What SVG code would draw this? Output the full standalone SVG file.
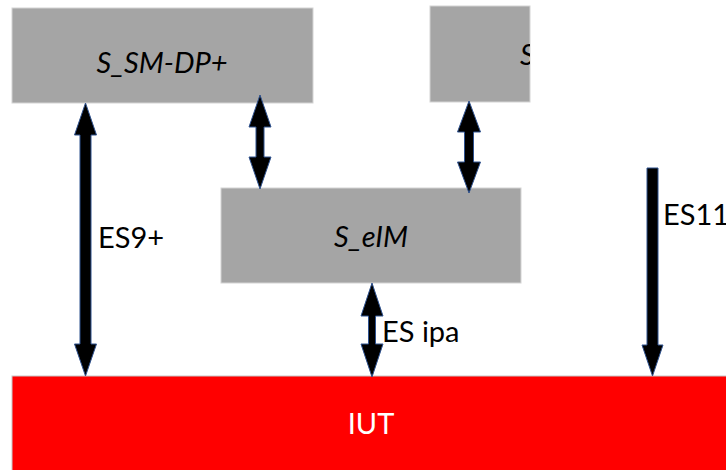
<svg xmlns="http://www.w3.org/2000/svg" width="726" height="470" viewBox="0 0 726 470">
  <style>
    .box { fill: #a5a5a5; stroke: #d4d4d4; stroke-width: 1; }
    .iut { fill: #ff0000; stroke: #c8c8c8; stroke-width: 1; }
    .name { font-family: Lato, "Liberation Sans", sans-serif; font-size: 29px; font-style: italic; fill: #000; }
    .lbl { font-family: Lato, "Liberation Sans", sans-serif; font-size: 29px; fill: #000; }
    .iut-text { font-family: Lato, "Liberation Sans", sans-serif; font-size: 29px; fill: #fff; }
    .arrow { fill: #000; stroke: #2f528f; stroke-width: 1; stroke-linejoin: miter; }
  </style>
  <defs>
    <clipPath id="clip-s2">
      <rect x="430" y="6" width="100" height="96"/>
    </clipPath>
  </defs>
  <rect width="726" height="470" fill="#fff"/>

  <g id="s-sm-dp">
    <rect class="box" x="12" y="8" width="301" height="95"/>
    <text class="name" x="162" y="73" text-anchor="middle">S_SM-DP+</text>
  </g>

  <g id="s-second">
    <rect class="box" x="430" y="6" width="100" height="96"/>
    <text class="name" x="520" y="65" clip-path="url(#clip-s2)">S_</text>
  </g>

  <g id="s-eim">
    <rect class="box" x="221" y="188" width="300" height="95"/>
    <text class="name" x="371" y="247" text-anchor="middle">S_eIM</text>
  </g>

  <g id="iut">
    <rect class="iut" x="12" y="376" width="720" height="100"/>
    <text class="iut-text" x="371" y="434" text-anchor="middle">IUT</text>
  </g>

  <g id="connectors">
    <!-- ES9+ : SM-DP+ to IUT -->
    <path class="arrow" d="M85.5,103 L96.5,135 L91,135 L91,344 L96.5,344 L85.5,376 L74.5,344 L80,344 L80,135 L74.5,135 Z"/>
    <!-- SM-DP+ to eIM -->
    <path class="arrow" d="M260,95 L271,127 L264,127 L264,157 L271,157 L260,189 L249,157 L256,157 L256,127 L249,127 Z"/>
    <!-- second server to eIM -->
    <path class="arrow" d="M469,101 L480.5,132 L473.5,132 L473.5,162 L480.5,162 L469,193 L457.5,162 L464.5,162 L464.5,132 L457.5,132 Z"/>
    <!-- ES ipa : eIM to IUT -->
    <path class="arrow" d="M372,283 L383,316 L375.5,316 L375.5,344 L383,344 L372,377 L361,344 L368.5,344 L368.5,316 L361,316 Z"/>
    <!-- ES11 : down to IUT -->
    <path class="arrow" d="M647,168 L658,168 L658,345 L663,345 L652.5,376 L642,345 L647,345 Z"/>

    <text class="lbl" x="98" y="248">ES9+</text>
    <text class="lbl" x="382" y="342">ES ipa</text>
    <text class="lbl" x="663" y="225">ES11</text>
  </g>
</svg>
